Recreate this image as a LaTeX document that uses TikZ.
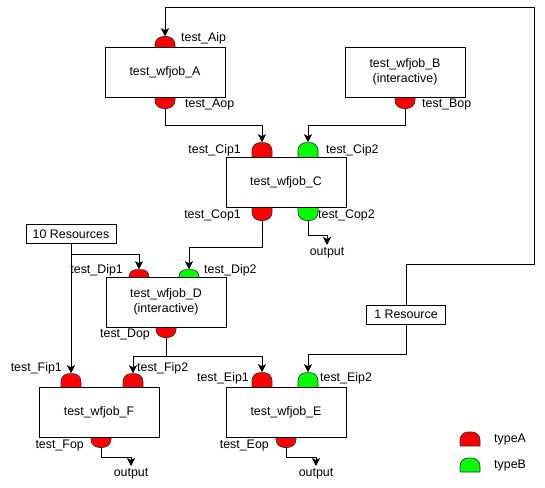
\documentclass[tikz,border=0pt]{standalone}
\usepackage{fontspec}
\setmainfont{Liberation Sans}
\usetikzlibrary{arrows.meta,backgrounds}

\tikzset{
  job/.style={draw, fill=white, minimum width=120pt, minimum height=50pt, align=center, inner sep=0pt, line width=0.8pt},
  res/.style={draw, fill=white, minimum height=19pt, inner sep=0pt, line width=0.8pt},
  port/.style={draw=black!80, minimum width=20pt, minimum height=22pt, rounded corners=8pt, inner sep=0pt, line width=0.7pt},
  typeA/.style={port, fill=red},
  typeB/.style={port, fill=green},
  lbl/.style={inner sep=0pt},
  flow/.style={line width=0.8pt, -{Stealth[length=8pt,width=8pt,inset=2pt]}},
  key/.style={draw=black!80, line width=0.7pt},
}

\begin{document}
\begin{tikzpicture}[x=1pt, y=-1pt, font=\fontsize{12.4}{15}\selectfont]
\useasboundingbox (0,0) rectangle (545,487);

% jobs
\node[job] (A) at (165,72) {test\_wfjob\_A};
\node[job] (B) at (405,72) {test\_wfjob\_B\\(interactive)};
\node[job] (C) at (286,182) {test\_wfjob\_C};
\node[job] (D) at (166,302) {test\_wfjob\_D\\(interactive)};
\node[job] (F) at (99,412) {test\_wfjob\_F};
\node[job] (E) at (286,412) {test\_wfjob\_E};

% resources
\node[res, minimum width=90pt] (R10) at (71,234) {10 Resources};
\node[res, minimum width=79pt] (R1) at (406,314.5) {1 Resource};

% ports (half hidden behind the jobs)
\begin{scope}[on background layer]
  \node[typeA, minimum height=20pt] (Aip) at (A.north) {};
  \node[typeA] (Aop) at (A.south) {};
  \node[typeA] (Bop) at (B.south) {};
  \node[typeA, minimum height=28pt, xshift=-24pt] (Cip1) at (C.north) {};
  \node[typeB, minimum height=28pt, xshift=22pt] (Cip2) at (C.north) {};
  \node[typeA, minimum height=26pt, xshift=-24pt] (Cop1) at (C.south) {};
  \node[typeB, minimum height=26pt, xshift=22pt] (Cop2) at (C.south) {};
  \node[typeA, minimum height=14pt, rounded corners=7pt, xshift=-27pt] (Dip1) at (D.north) {};
  \node[typeB, minimum height=14pt, rounded corners=7pt, xshift=23pt] (Dip2) at (D.north) {};
  \node[typeA, minimum height=20pt] (Dop) at (D.south) {};
  \node[typeA, minimum height=26pt, xshift=-28pt] (Fip1) at (F.north) {};
  \node[typeA, minimum height=26pt, xshift=34pt] (Fip2) at (F.north) {};
  \node[typeA, minimum height=20pt, xshift=2pt] (Fop) at (F.south) {};
  \node[typeA, minimum height=28pt, xshift=-24pt] (Eip1) at (E.north) {};
  \node[typeB, minimum height=28pt, xshift=22pt] (Eip2) at (E.north) {};
  \node[typeA, minimum height=20pt] (Eop) at (E.south) {};
\end{scope}

% port labels
\node[lbl, anchor=west] (lAip) at (181,38) {test\_Aip};
\node[lbl, anchor=west] (lAop) at (185,105) {test\_Aop};
\node[lbl, anchor=west] (lBop) at (422,105) {test\_Bop};
\node[lbl, anchor=east] (lCip1) at (241,150) {test\_Cip1};
\node[lbl, anchor=west] (lCip2) at (326,150) {test\_Cip2};
\node[lbl, anchor=east] (lCop1) at (241,215) {test\_Cop1};
\node[lbl, anchor=west] (lCop2) at (318,215) {test\_Cop2};
\node[lbl, anchor=east] (lDip1) at (123,270) {test\_Dip1};
\node[lbl, anchor=west] (lDip2) at (204,270) {test\_Dip2};
\node[lbl, anchor=east] (lDop) at (150,335) {test\_Dop};
\node[lbl, anchor=east] (lFip1) at (62,368) {test\_Fip1};
\node[lbl, anchor=west] (lFip2) at (137,368) {test\_Fip2};
\node[lbl, anchor=east] (lEip1) at (249,378) {test\_Eip1};
\node[lbl, anchor=west] (lEip2) at (320,378) {test\_Eip2};
\node[lbl, anchor=east] (lFop) at (84,446) {test\_Fop};
\node[lbl, anchor=east] (lEop) at (269,446) {test\_Eop};

% outputs
\node[lbl, anchor=north, inner sep=2pt] (oC) at (327,245) {output};
\node[lbl, anchor=north, inner sep=2pt] (oF) at (131,466) {output};
\node[lbl, anchor=north, inner sep=2pt] (oE) at (316,466) {output};

% connections
\draw[flow] (R1.north) -- ++(0,-40) -| (534,7) -| (Aip.north);
\draw[flow] (R1.south) -- ++(0,30) -| (Eip2.north);
\draw[flow] (Aop.south) -- ++(0,17) -| (Cip1.north);
\draw[flow] (Bop.south) -- ++(0,17) -| (Cip2.north);
\draw[flow] (Cop1.south) -- ++(0,27) -| (Dip2.north);
\draw[flow] (Cop2.south) -- ++(0,15) -| (oC.north);
\draw[flow] (Dop.south) -- ++(0,19) coordinate (dj) -| (Fip2.north);
\draw[flow] (dj) -| (Eip1.north);
\draw[flow] (R10.south) -- ++(0,10) -| (Dip1.north);
\draw[flow] (R10.south) -- (Fip1.north);
\draw[flow] (Fop.south) -- ++(0,10) -| (oF.north);
\draw[flow] (Eop.south) -- ++(0,10) -| (oE.north);

% legend
\draw[key, fill=red] (460,446) -- (460,440) arc[start angle=180, end angle=270, radius=8]
  -- (472,432) arc[start angle=270, end angle=360, radius=8] -- (480,446) -- cycle;
\draw[key, fill=green] (460,472) -- (460,466) arc[start angle=180, end angle=270, radius=8]
  -- (472,458) arc[start angle=270, end angle=360, radius=8] -- (480,472) -- cycle;
\node[lbl, anchor=west] (tA) at (494,440) {typeA};
\node[lbl, anchor=west] (tB) at (494,466) {typeB};
\end{tikzpicture}
\end{document}
